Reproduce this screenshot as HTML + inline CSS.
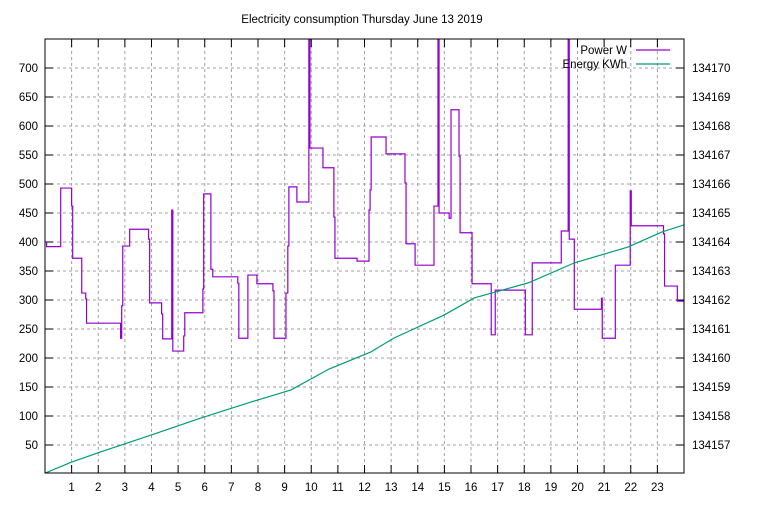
<!DOCTYPE html>
<html><head><meta charset="utf-8"><style>
body{margin:0;background:#fff}
svg text{font-family:"Liberation Sans",sans-serif;font-size:11.5px;fill:#000}
</style></head><body>
<svg id="chart" width="768" height="500"></svg>
<script>
const hours=[1,2,3,4,5,6,7,8,9,10,11,12,13,14,15,16,17,18,19,20,21,22,23];
const powerTicks=[50,100,150,200,250,300,350,400,450,500,550,600,650,700];
const energyTicks=[134157,134158,134159,134160,134161,134162,134163,134164,134165,134166,134167,134168,134169,134170];
const powerT=[0,0.06,0.59,1.0,1.04,1.38,1.53,1.56,2.84,2.88,2.92,3.18,3.89,3.93,4.38,4.42,4.76,4.80,5.21,5.25,5.93,5.96,6.23,6.30,7.24,7.28,7.62,7.96,8.56,8.60,9.05,9.12,9.16,9.46,9.91,9.95,10.44,10.85,10.89,11.72,12.17,12.21,12.25,12.81,13.52,13.56,13.90,14.61,14.76,14.80,15.18,15.25,15.55,15.59,16.04,16.72,16.76,16.91,18.04,18.30,19.39,19.65,19.69,19.88,20.90,20.93,21.42,21.98,22.02,22.36,23.23,23.27,23.75];
const powerW=[400,392,493,462,372,312,302,260,234,290,393,422,405,295,276,233,455,212,238,278,319,483,353,340,329,234,343,328,316,234,312,393,495,469,800,562,528,443,372,367,455,490,581,552,502,397,360,462,800,450,441,628,548,416,328,328,240,317,240,364,419,800,405,284,303,234,360,488,428,428,414,324,298];
const energyT=[0,1.0,2.09,3.97,5.85,7.73,9.24,10.67,12.24,13.11,14.99,16.12,18.15,19.88,21.91,23.15,24];
const energyK=[134156.03,134156.41,134156.76,134157.34,134157.93,134158.48,134158.90,134159.62,134160.21,134160.69,134161.48,134162.07,134162.59,134163.28,134163.83,134164.34,134164.59];
const L=45,R=684,T=39,B=473;
const xs=h=>L+h*(R-L)/24;
const yL=v=>474-v*0.58;
const yR=v=>474-(v-134156)*29;
const svg=document.getElementById('chart');
const NS='http://www.w3.org/2000/svg';
function mk(tag,attrs,parent){const e=document.createElementNS(NS,tag);for(const k in attrs)e.setAttribute(k,attrs[k]);(parent||svg).appendChild(e);return e;}
const defs=mk('defs',{});const cp=mk('clipPath',{id:'pc'},defs);mk('rect',{x:L,y:T,width:R-L,height:B-T},cp);
let t=mk('text',{x:362,y:23,'text-anchor':'middle'});t.textContent='Electricity consumption Thursday June 13 2019';


powerTicks.forEach((v,i)=>{const y=yL(v);
 const g=mk('line',{x1:L,x2:R,y1:y,y2:y,stroke:'#a0a0a0','stroke-dasharray':'3,3','stroke-width':1});
 
 
 mk('line',{x1:L,x2:L+8,y1:y,y2:y,stroke:'#000'});mk('line',{x1:R-8,x2:R,y1:y,y2:y,stroke:'#000'});
 const tl=mk('text',{x:38,y:y+4,'text-anchor':'end'});tl.textContent=v;
 
 
 const tr=mk('text',{x:692,y:yR(energyTicks[i])+4});tr.textContent=energyTicks[i];
 
 
});
hours.forEach(h=>{const x=xs(h);
 const g=mk('line',{x1:x,x2:x,y1:T,y2:B,stroke:'#a0a0a0','stroke-dasharray':'3,3','stroke-width':1});
 
 
 mk('line',{x1:x,x2:x,y1:B,y2:B-8,stroke:'#000'});mk('line',{x1:x,x2:x,y1:T,y2:T+8,stroke:'#000'});
 const tl=mk('text',{x:x,y:491,'text-anchor':'middle'});tl.textContent=h;
 
 
});
let d='';powerT.forEach((h,i)=>{const x=xs(h),y=yL(powerW[i]);d+=(i?'L'+x+','+y:'M'+x+','+y);const nx=xs(i+1<powerT.length?powerT[i+1]:24);d+='L'+nx+','+y;});
const pp=mk('path',{d:d,fill:'none',stroke:'#9400d3','stroke-width':1.2,'clip-path':'url(#pc)'});


const ep=mk('polyline',{points:energyT.map((h,i)=>xs(h)+','+yR(energyK[i])).join(' '),fill:'none',stroke:'#009e73','stroke-width':1.2,'clip-path':'url(#pc)'});


const b=mk('rect',{x:L,y:T,width:R-L,height:B-T,fill:'none',stroke:'#000'});


const l1=mk('text',{x:627,y:54,'text-anchor':'end'});l1.textContent='Power W';


mk('line',{x1:636,x2:670,y1:50,y2:50,stroke:'#9400d3','stroke-width':1.2});
const l2=mk('text',{x:627,y:68,'text-anchor':'end'});l2.textContent='Energy KWh';


mk('line',{x1:636,x2:670,y1:64,y2:64,stroke:'#009e73','stroke-width':1.2});
</script>
</body></html>
